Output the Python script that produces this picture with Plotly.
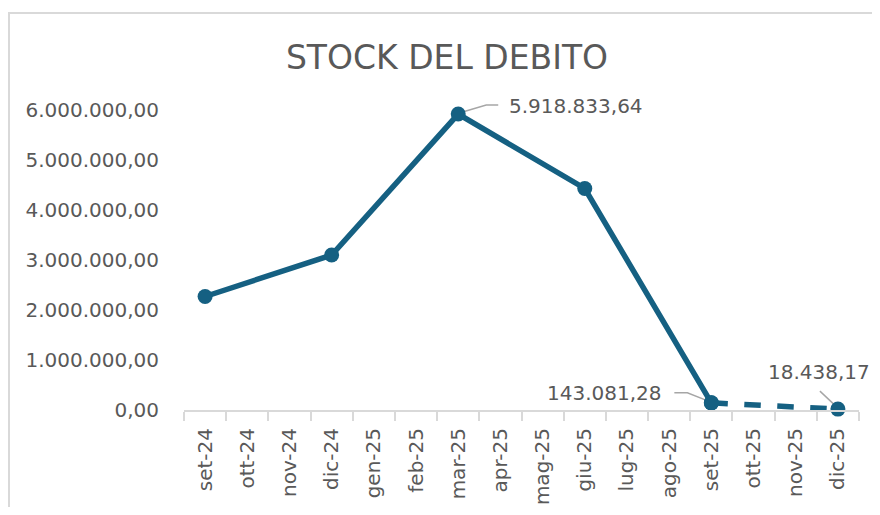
import plotly.graph_objects as go

# ---- data ----
months = ["set-24", "ott-24", "nov-24", "dic-24", "gen-25", "feb-25", "mar-25", "apr-25",
          "mag-25", "giu-25", "lug-25", "ago-25", "set-25", "ott-25", "nov-25", "dic-25"]
stock_actual = [2270000, None, None, 3100000, None, None, 5918833.64, None,
                None, 4430000, None, None, 143081.28, None, None, None]
stock_forecast = [None, None, None, None, None, None, None, None,
                  None, None, None, None, 143081.28, None, None, 18438.17]
y_ticks = [0, 1000000, 2000000, 3000000, 4000000, 5000000, 6000000]
labelled_months = ["mar-25", "set-25", "dic-25"]
labelled_values = [5918833.64, 143081.28, 18438.17]


def it_fmt(v):
    s = f"{v:,.2f}"
    return s.replace(",", "X").replace(".", ",").replace("X", ".")


y_ticktext = [it_fmt(v) for v in y_ticks]

LINE = "#156082"
TXT = "#595959"
GRID = "#d9d9d9"
LEAD = "#a6a6a6"
FONT = "DejaVu Sans"

# page body has an 8px margin, so the figure is drawn 8px in from the corner
OFF = 8
W, H = 880 - 2 * OFF, 515 - 2 * OFF
PLOT_L, PLOT_R, PLOT_T, PLOT_B = 184, 859, 85, 410  # target pixel positions in window
ML, MR, MT, MB = PLOT_L - OFF, W + OFF - PLOT_R, PLOT_T - OFF, H + OFF - PLOT_B
PW, PH = W - ML - MR, H - MT - MB

fig = go.Figure()
fig.add_trace(go.Scatter(x=months, y=stock_actual, mode="lines+markers", connectgaps=True,
                         line=dict(color=LINE, width=5.5), marker=dict(color=LINE, size=15),
                         cliponaxis=False, showlegend=False, hoverinfo="x+y"))
fig.add_trace(go.Scatter(x=months, y=stock_forecast, mode="lines+markers", connectgaps=True,
                         line=dict(color=LINE, width=5.5, dash="dash"), marker=dict(color=LINE, size=15),
                         cliponaxis=False, showlegend=False, hoverinfo="x+y"))

# label placement (pixel offsets) and leader line paths
offsets = {
    "mar-25": dict(xanchor="left", xshift=49, yshift=8, path="M 1 1 L 28 9 L 40 9"),
    "set-25": dict(xanchor="right", xshift=-47, yshift=10, path="M -37 10 L -24 10 L -1 1"),
    "dic-25": dict(xanchor="center", xshift=-19, yshift=37, path="M -18 18 L -1 2"),
}
for m, v in zip(labelled_months, labelled_values):
    o = offsets[m]
    fig.add_annotation(x=m, y=v, xref="x", yref="y", text=it_fmt(v), showarrow=False,
                       xanchor=o["xanchor"], yanchor="middle", xshift=o["xshift"], yshift=o["yshift"],
                       font=dict(family=FONT, size=20, color=TXT))
    fig.add_shape(type="path", xref="x", yref="y", xsizemode="pixel", ysizemode="pixel",
                  xanchor=m, yanchor=v, path=o["path"], line=dict(color=LEAD, width=1.5), layer="below")


# chart frame (only top and left edges are visible in the window)
def px_x(p):
    return (p - PLOT_L) / PW


def px_y(p):
    return (PLOT_B - p) / PH


fig.add_shape(type="line", xref="paper", yref="paper",
              x0=px_x(8), x1=px_x(900), y0=px_y(13), y1=px_y(13),
              line=dict(color=GRID, width=2), layer="below")
fig.add_shape(type="line", xref="paper", yref="paper",
              x0=px_x(9), x1=px_x(9), y0=px_y(12), y1=px_y(560),
              line=dict(color=GRID, width=2), layer="below")

fig.update_layout(
    width=W, height=H,
    margin=dict(l=ML, r=MR, t=MT, b=MB, autoexpand=False),
    paper_bgcolor="white", plot_bgcolor="white",
    title=dict(text="STOCK DEL DEBITO", x=(447 - OFF) / W, xanchor="center",
               y=1 - (57 - OFF) / H, yanchor="middle",
               font=dict(family=FONT, size=33, color=TXT)),
    font=dict(family=FONT, color=TXT),
    xaxis=dict(type="category", categoryorder="array", categoryarray=months,
               tickangle=-90, tickfont=dict(family=FONT, size=20, color=TXT),
               showgrid=False, showline=True, linecolor=GRID, linewidth=2,
               ticks="outside", tickson="boundaries", ticklen=9, tickcolor=GRID, tickwidth=2,
               ticklabelstandoff=8,
               range=[-0.5, len(months) - 0.5], fixedrange=True),
    yaxis=dict(range=[0, 6500000], tickvals=y_ticks, ticktext=y_ticktext,
               tickfont=dict(family=FONT, size=20, color=TXT),
               showgrid=False, zeroline=False, showline=False, ticks="", ticklabelstandoff=24,
               fixedrange=True),
)

fig.write_html("out.html")
